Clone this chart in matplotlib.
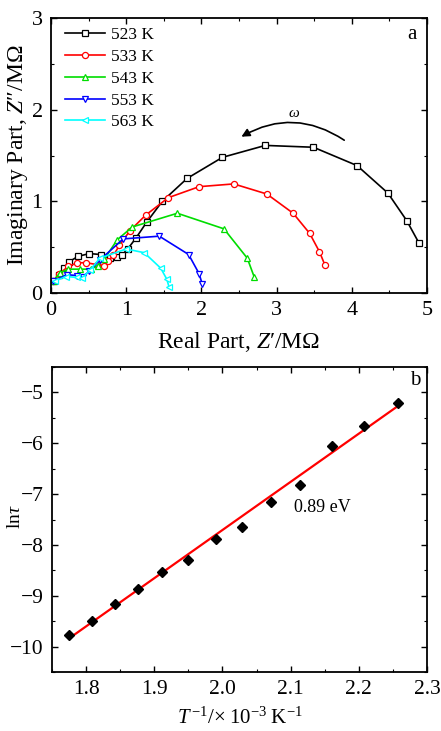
import matplotlib
matplotlib.use("Agg")
import matplotlib.pyplot as plt
from matplotlib.patches import FancyArrowPatch
from matplotlib.ticker import MultipleLocator, FormatStrFormatter

plt.rcParams['font.family'] = ['Liberation Serif', 'DejaVu Serif']
plt.rcParams['mathtext.fontset'] = 'custom'
plt.rcParams['mathtext.rm'] = 'Liberation Serif'
plt.rcParams['mathtext.it'] = 'Liberation Serif:italic'

# ---- Panel a data (Nyquist plots) ----
labels = ['523 K', '533 K', '543 K', '553 K', '563 K']
colors = ['black', 'red', '#00dd00', 'blue', 'cyan']
markers = ['s', 'o', '^', 'v', '<']

x523 = [0.04, 0.10, 0.17, 0.24, 0.36, 0.51, 0.66, 0.78, 0.88, 0.95, 1.02, 1.13, 1.27, 1.48, 1.81, 2.28, 2.85, 3.49, 4.07, 4.48, 4.73, 4.89]
y523 = [0.13, 0.20, 0.27, 0.34, 0.40, 0.43, 0.42, 0.38, 0.39, 0.42, 0.48, 0.60, 0.77, 1.00, 1.25, 1.48, 1.61, 1.59, 1.39, 1.09, 0.79, 0.55]
x533 = [0.03, 0.11, 0.23, 0.35, 0.47, 0.61, 0.70, 0.76, 0.83, 0.91, 1.05, 1.26, 1.56, 1.97, 2.43, 2.87, 3.22, 3.44, 3.57, 3.64]
y533 = [0.13, 0.21, 0.29, 0.33, 0.33, 0.31, 0.30, 0.35, 0.41, 0.52, 0.68, 0.85, 1.04, 1.16, 1.19, 1.08, 0.87, 0.65, 0.45, 0.31]
x543 = [0.03, 0.12, 0.23, 0.38, 0.53, 0.62, 0.71, 0.88, 1.08, 1.68, 2.30, 2.61, 2.70]
y543 = [0.13, 0.22, 0.26, 0.26, 0.26, 0.30, 0.37, 0.58, 0.72, 0.87, 0.70, 0.38, 0.18]
x553 = [0.03, 0.21, 0.35, 0.43, 0.51, 0.65, 0.96, 1.44, 1.83, 1.97, 2.01]
y553 = [0.13, 0.20, 0.19, 0.18, 0.24, 0.36, 0.59, 0.62, 0.42, 0.21, 0.10]
x563 = [0.05, 0.20, 0.34, 0.41, 0.52, 0.65, 1.00, 1.24, 1.46, 1.54, 1.57]
y563 = [0.13, 0.18, 0.17, 0.16, 0.25, 0.38, 0.48, 0.44, 0.27, 0.15, 0.065]

xs = [x523, x533, x543, x553, x563]
ys = [y523, y533, y543, y553, y563]

# ---- Panel b data (Arrhenius) ----
invT = [1.775, 1.808, 1.842, 1.876, 1.912, 1.950, 1.990, 2.029, 2.071, 2.114, 2.160, 2.208, 2.257]
lntau = [-9.77, -9.50, -9.17, -8.86, -8.53, -8.30, -7.88, -7.65, -7.15, -6.82, -6.05, -5.67, -5.20]
fit_x = [1.776, 2.255]
fit_y = [-9.83, -5.29]

fig = plt.figure(figsize=(4.41, 7.31), dpi=100)

# ---------- Panel a ----------
ax1 = fig.add_axes([51/441, 1-293/731, 376/441, 275/731])
for x, y, c, m, l in zip(xs, ys, colors, markers, labels):
    ax1.plot(x, y, color=c, marker=m, markersize=4.4, markerfacecolor='white',
             markeredgecolor=c, markeredgewidth=0.9, linewidth=1.2, label=l)
ax1.set_xlim(0, 5)
ax1.set_ylim(0, 3)
ax1.xaxis.set_major_locator(MultipleLocator(1))
ax1.xaxis.set_minor_locator(MultipleLocator(0.5))
ax1.yaxis.set_major_locator(MultipleLocator(1))
ax1.yaxis.set_minor_locator(MultipleLocator(0.5))
ax1.set_xlabel("Real Part, $\\mathit{Z}$\u2032/M\u03a9", fontsize=17)
ax1.set_ylabel("Imaginary Part, $\\mathit{Z}$\u2033/M\u03a9", fontsize=17)
ax1.xaxis.set_label_coords(0.5, -0.135)
ax1.yaxis.set_label_coords(-0.055, 0.5)
ax1.legend(loc='upper left', fontsize=12.5, frameon=False, handlelength=2.3,
           handletextpad=0.35, labelspacing=0.33, borderaxespad=0.0, borderpad=0.0,
           bbox_to_anchor=(0.037, 0.968))
ax1.text(4.8, 2.82, 'a', fontsize=15, ha='center', va='center')
arr = FancyArrowPatch((3.93, 1.65), (2.50, 1.69), connectionstyle='arc3,rad=0.32',
                      arrowstyle='-|>', mutation_scale=12, color='black', linewidth=1.2)
ax1.add_patch(arr)
ax1.text(3.23, 1.96, '$\\omega$', fontsize=11, ha='center', va='center')

# ---------- Panel b ----------
ax2 = fig.add_axes([52/441, 1-672/731, 375/441, 305/731])
ax2.plot(fit_x, fit_y, color='red', linewidth=1.6, zorder=2)
ax2.plot(invT, lntau, linestyle='none', marker='D', markersize=5.5, color='black', zorder=3)
ax2.set_xlim(1.75, 2.3)
ax2.set_ylim(-10.5, -4.5)
ax2.xaxis.set_major_locator(MultipleLocator(0.1))
ax2.xaxis.set_minor_locator(MultipleLocator(0.05))
ax2.yaxis.set_major_locator(MultipleLocator(1))
ax2.yaxis.set_minor_locator(MultipleLocator(0.5))
ax2.xaxis.set_major_formatter(FormatStrFormatter('%.1f'))
ax2.set_xlabel('$\\mathit{T}^{\\,\\mathrm{-1}}$/\u00d7\u200910$^{\\mathrm{-3}}$\u2009K$^{\\mathrm{-1}}$',
               fontsize=15)
ax2.set_ylabel('ln$\\mathit{\\tau}$', fontsize=14)
ax2.xaxis.set_label_coords(0.5, -0.118)
ax2.yaxis.set_label_coords(-0.075, 0.51)
ax2.text(2.105, -7.27, '0.89 eV', fontsize=13, ha='left', va='center')
ax2.text(2.283, -4.77, 'b', fontsize=15, ha='center', va='center')

for ax in (ax1, ax2):
    ax.tick_params(which='both', direction='in', top=True, right=True)
    ax.tick_params(which='major', length=4, width=1.0, pad=6)
    ax.tick_params(which='minor', length=2.5, width=0.8)
    for s in ax.spines.values():
        s.set_linewidth(1.3)
ax1.tick_params(labelsize=16)
ax2.tick_params(labelsize=15.5)

fig.savefig('out.png', dpi=100)
